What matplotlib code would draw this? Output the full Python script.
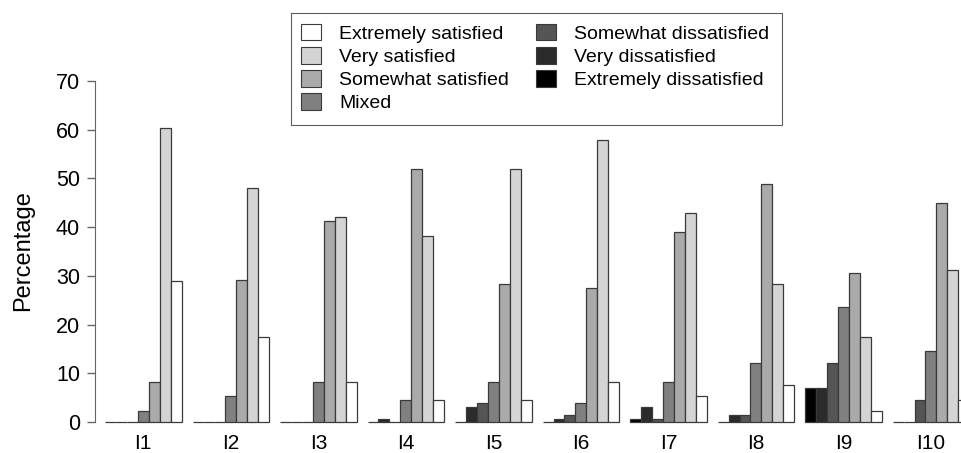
import matplotlib
matplotlib.use("Agg")
import matplotlib.pyplot as plt
from matplotlib.patches import Patch, Rectangle
from matplotlib.legend_handler import HandlerPatch

plt.rcParams['font.family'] = ['Liberation Sans', 'DejaVu Sans']

groups = ["I1", "I2", "I3", "I4", "I5", "I6", "I7", "I8", "I9", "I10"]
# bar order within a group, left to right
levels = ["Extremely dissatisfied", "Very dissatisfied", "Somewhat dissatisfied",
          "Mixed", "Somewhat satisfied", "Very satisfied", "Extremely satisfied"]
colors = ["#000000", "#2b2b2b", "#555555", "#808080", "#aaaaaa", "#d4d4d4", "#ffffff"]

extremely_dissatisfied = [0, 0, 0, 0, 0, 0, 0.7, 0, 6.9, 0]
very_dissatisfied = [0, 0, 0, 0.7, 3.0, 0.7, 3.0, 1.5, 6.9, 0]
somewhat_dissatisfied = [0, 0, 0, 0, 3.8, 1.5, 0.7, 1.5, 12.2, 4.5]
mixed = [2.2, 5.3, 8.3, 4.5, 8.3, 3.8, 8.3, 12.2, 23.7, 14.5]
somewhat_satisfied = [8.3, 29.1, 41.3, 51.9, 28.3, 27.5, 39.0, 48.9, 30.5, 45.0]
very_satisfied = [60.3, 48.0, 42.0, 38.2, 51.9, 57.9, 42.9, 28.3, 17.5, 31.3]
extremely_satisfied = [29.0, 17.5, 8.3, 4.5, 4.5, 8.3, 5.3, 7.6, 2.3, 4.5]

series = [extremely_dissatisfied, very_dissatisfied, somewhat_dissatisfied, mixed,
          somewhat_satisfied, very_satisfied, extremely_satisfied]

W, H = 962, 453
fig = plt.figure(figsize=(W / 100, H / 100), dpi=100)

unit = 10.94
x0_px = 105 - unit  # pixel of data x = 0
ax_left_px, ax_right_px = 95, 962
y0_px, y70_px = 422, 81
ppu = (y0_px - y70_px) / 70.0
ax_bottom_px = 428
ax = fig.add_axes([ax_left_px / W, 1 - ax_bottom_px / H,
                   (ax_right_px - ax_left_px) / W, (ax_bottom_px - y70_px) / H])
ax.set_xlim((ax_left_px - x0_px) / unit, (ax_right_px - x0_px) / unit)
ax.set_ylim(-(ax_bottom_px - y0_px) / ppu, 70)

nb = len(levels)
for j, (vals, col) in enumerate(zip(series, colors)):
    xs = [g * (nb + 1) + 1 + j for g in range(len(groups))]
    ax.bar(xs, vals, width=1.0, align='edge', color=col, edgecolor='#3a3a3a',
           linewidth=0.9, clip_on=False)

centers = [g * (nb + 1) + 1 + nb / 2 for g in range(len(groups))]
ax.set_xticks(centers)
ax.set_xticklabels(groups, fontsize=15)
ax.tick_params(axis='x', length=0, pad=4.5)

ax.set_yticks(range(0, 71, 10))
ax.tick_params(axis='y', labelsize=15.5, length=5.8, width=1, color='#666666', pad=5)
ax.spines['left'].set_bounds(0, 70)
ax.spines['left'].set_color('#666666')
for s in ['top', 'right', 'bottom']:
    ax.spines[s].set_visible(False)
ax.set_ylabel("Percentage", fontsize=17)
ax.yaxis.set_label_coords((34 - ax_left_px) / (ax_right_px - ax_left_px),
                          (ax_bottom_px - 251) / (ax_bottom_px - y70_px))

LEG_FS = 14
fs_px = LEG_FS * 100 / 72.0


def make_box(legend, orig_handle, xdescent, ydescent, width, height, fontsize):
    bw, bh = 15.0, 12.0
    return Rectangle((width - bw - xdescent, -ydescent + (height - bh) / 2), bw, bh)


legend_order = [6, 5, 4, 3, 2, 1, 0]
handles = [Patch(facecolor=colors[i], edgecolor='#3a3a3a', linewidth=0.8) for i in legend_order]
labels = [levels[i] for i in legend_order]
leg = fig.legend(handles, labels, ncol=2, loc='upper left',
                 bbox_to_anchor=(291.5 / W, 1 - 13.3 / H), fontsize=LEG_FS,
                 frameon=True, fancybox=False, edgecolor='#333333',
                 handlelength=17.5 / fs_px, handleheight=12.0 / fs_px,
                 handletextpad=17.6 / fs_px,
                 columnspacing=30.0 / fs_px, labelspacing=0.31, borderpad=0.64,
                 borderaxespad=0,
                 handler_map={Patch: HandlerPatch(patch_func=make_box)})
leg.get_frame().set_linewidth(0.8)

fig.savefig("out.png", dpi=100)
